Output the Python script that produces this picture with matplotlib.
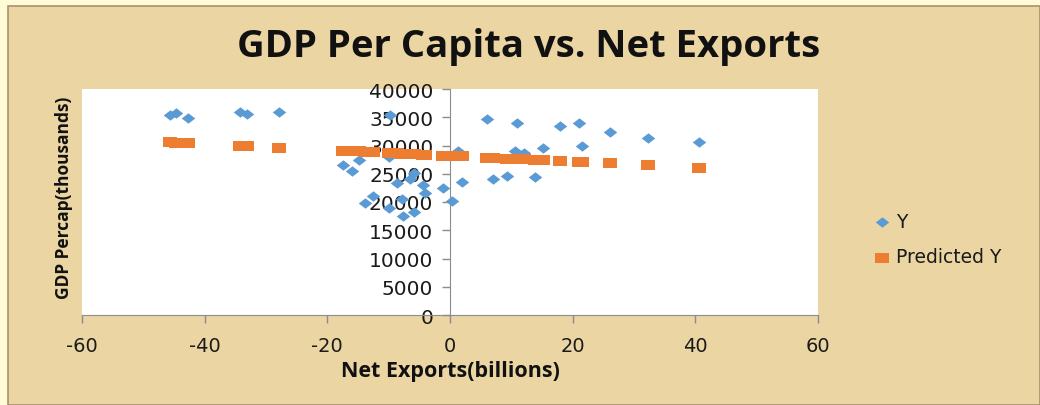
import matplotlib
matplotlib.use("Agg")
import matplotlib.pyplot as plt
from matplotlib.patches import Rectangle

plt.rcParams["axes.unicode_minus"] = False

# ---- data ----
net_exports = [-45.7, -44.7, -42.7, -34.2, -33.1, -27.9, -9.8, -17.4, -16.0, -14.8,
               -13.9, -12.6, -10.0, -7.7, -5.9, -7.8, -8.6, -6.5, -5.9, -4.4,
               -4.1, -1.1, 0.3, 1.3, 1.9, 6.0, 10.9, 17.9, 21.0, 26.1,
               32.3, 40.6, 10.6, 12.0, 15.2, 21.5, 7.0, 9.3, 13.9, -9.9]
gdp_y = [35400, 35700, 34800, 35900, 35600, 36000, 35400, 26600, 25500, 27500,
         19800, 21000, 18900, 17500, 18300, 20500, 23400, 24000, 25100, 23000,
         21600, 22400, 20200, 29000, 23600, 34700, 34000, 33500, 33900, 32400,
         31300, 30600, 29100, 28700, 29600, 29900, 24100, 24600, 24500, 28000]
predicted_y = [30540, 30490, 30380, 29940, 29880, 29620, 28680, 29070, 29000, 28940,
               28890, 28820, 28690, 28570, 28480, 28570, 28620, 28510, 28480, 28400,
               28380, 28230, 28150, 28100, 28070, 27860, 27610, 27240, 27080, 26820,
               26500, 26070, 27620, 27550, 27380, 27060, 27810, 27690, 27450, 28680]
x_ticks = [-60, -40, -20, 0, 20, 40, 60]
y_ticks = [0, 5000, 10000, 15000, 20000, 25000, 30000, 35000, 40000]

W, H = 1040, 406
fig = plt.figure(figsize=(W / 100, H / 100), dpi=100, facecolor="#FFFBD6")

# parchment panel
fig.patches.append(Rectangle((8 / W, 0), 1 - 8 / W, 1 - 7 / H, transform=fig.transFigure,
                             facecolor="#EBD6A3", edgecolor="#A89070", linewidth=1.2,
                             zorder=-10))

ax = fig.add_axes([82 / W, 1 - 316 / H, (818 - 82) / W, (316 - 90) / H])
ax.set_facecolor("white")
ax.set_zorder(1)

diamond = [(-1.3, 0), (0, -1), (1.3, 0), (0, 1), (-1.3, 0)]
rect = [(-1.3, -1), (1.3, -1), (1.3, 1), (-1.3, 1), (-1.3, -1)]

ax.scatter(net_exports, gdp_y, marker=diamond, s=95, color="#5B9BD5", linewidths=0,
           label="Y", zorder=3)
ax.scatter(net_exports, predicted_y, marker=rect, s=105, color="#ED7D31", linewidths=0,
           label="Predicted Y", zorder=4)

ax.set_xlim(-60, 60)
ax.set_ylim(0, 40000)
ax.set_xticks(x_ticks)
ax.set_yticks(y_ticks)

for s in ["top", "right"]:
    ax.spines[s].set_visible(False)
ax.spines["left"].set_position(("data", 0))
ax.spines["left"].set_color("#8C8C8C")
ax.spines["bottom"].set_color("#8C8C8C")
ax.tick_params(axis="both", direction="out", colors="#8C8C8C", length=6, width=1,
               labelcolor="#1A1A1A")
ax.tick_params(axis="y", pad=6, labelsize=14.5)
ax.tick_params(axis="x", pad=9, labelsize=14)

fig.text(529 / W, 1 - 47 / H, "GDP Per Capita vs. Net Exports", ha="center", va="center",
         fontsize=27.5, fontweight="bold", family=["Open Sans", "DejaVu Sans"], color="#111111")
fig.text(450 / W, 1 - 372 / H, "Net Exports(billions)", ha="center", va="center",
         fontsize=15.5, fontweight="bold", family=["Open Sans", "DejaVu Sans"], color="#111111")
fig.text(64 / W, 1 - 198 / H, "GDP Percap(thousands)", ha="center", va="center",
         rotation=90, fontsize=12.5, fontweight="bold", family=["Open Sans", "DejaVu Sans"],
         color="#111111")

leg = ax.legend(loc="center left", bbox_to_anchor=(863 / W, 1 - 240 / H),
                bbox_transform=fig.transFigure, frameon=False, fontsize=13.5,
                handletextpad=-0.25, labelspacing=0.9, markerscale=1.0,
                borderaxespad=0, borderpad=0)
for t in leg.get_texts():
    t.set_color("#1A1A1A")

fig.savefig("out.png", dpi=100, facecolor=fig.get_facecolor())
